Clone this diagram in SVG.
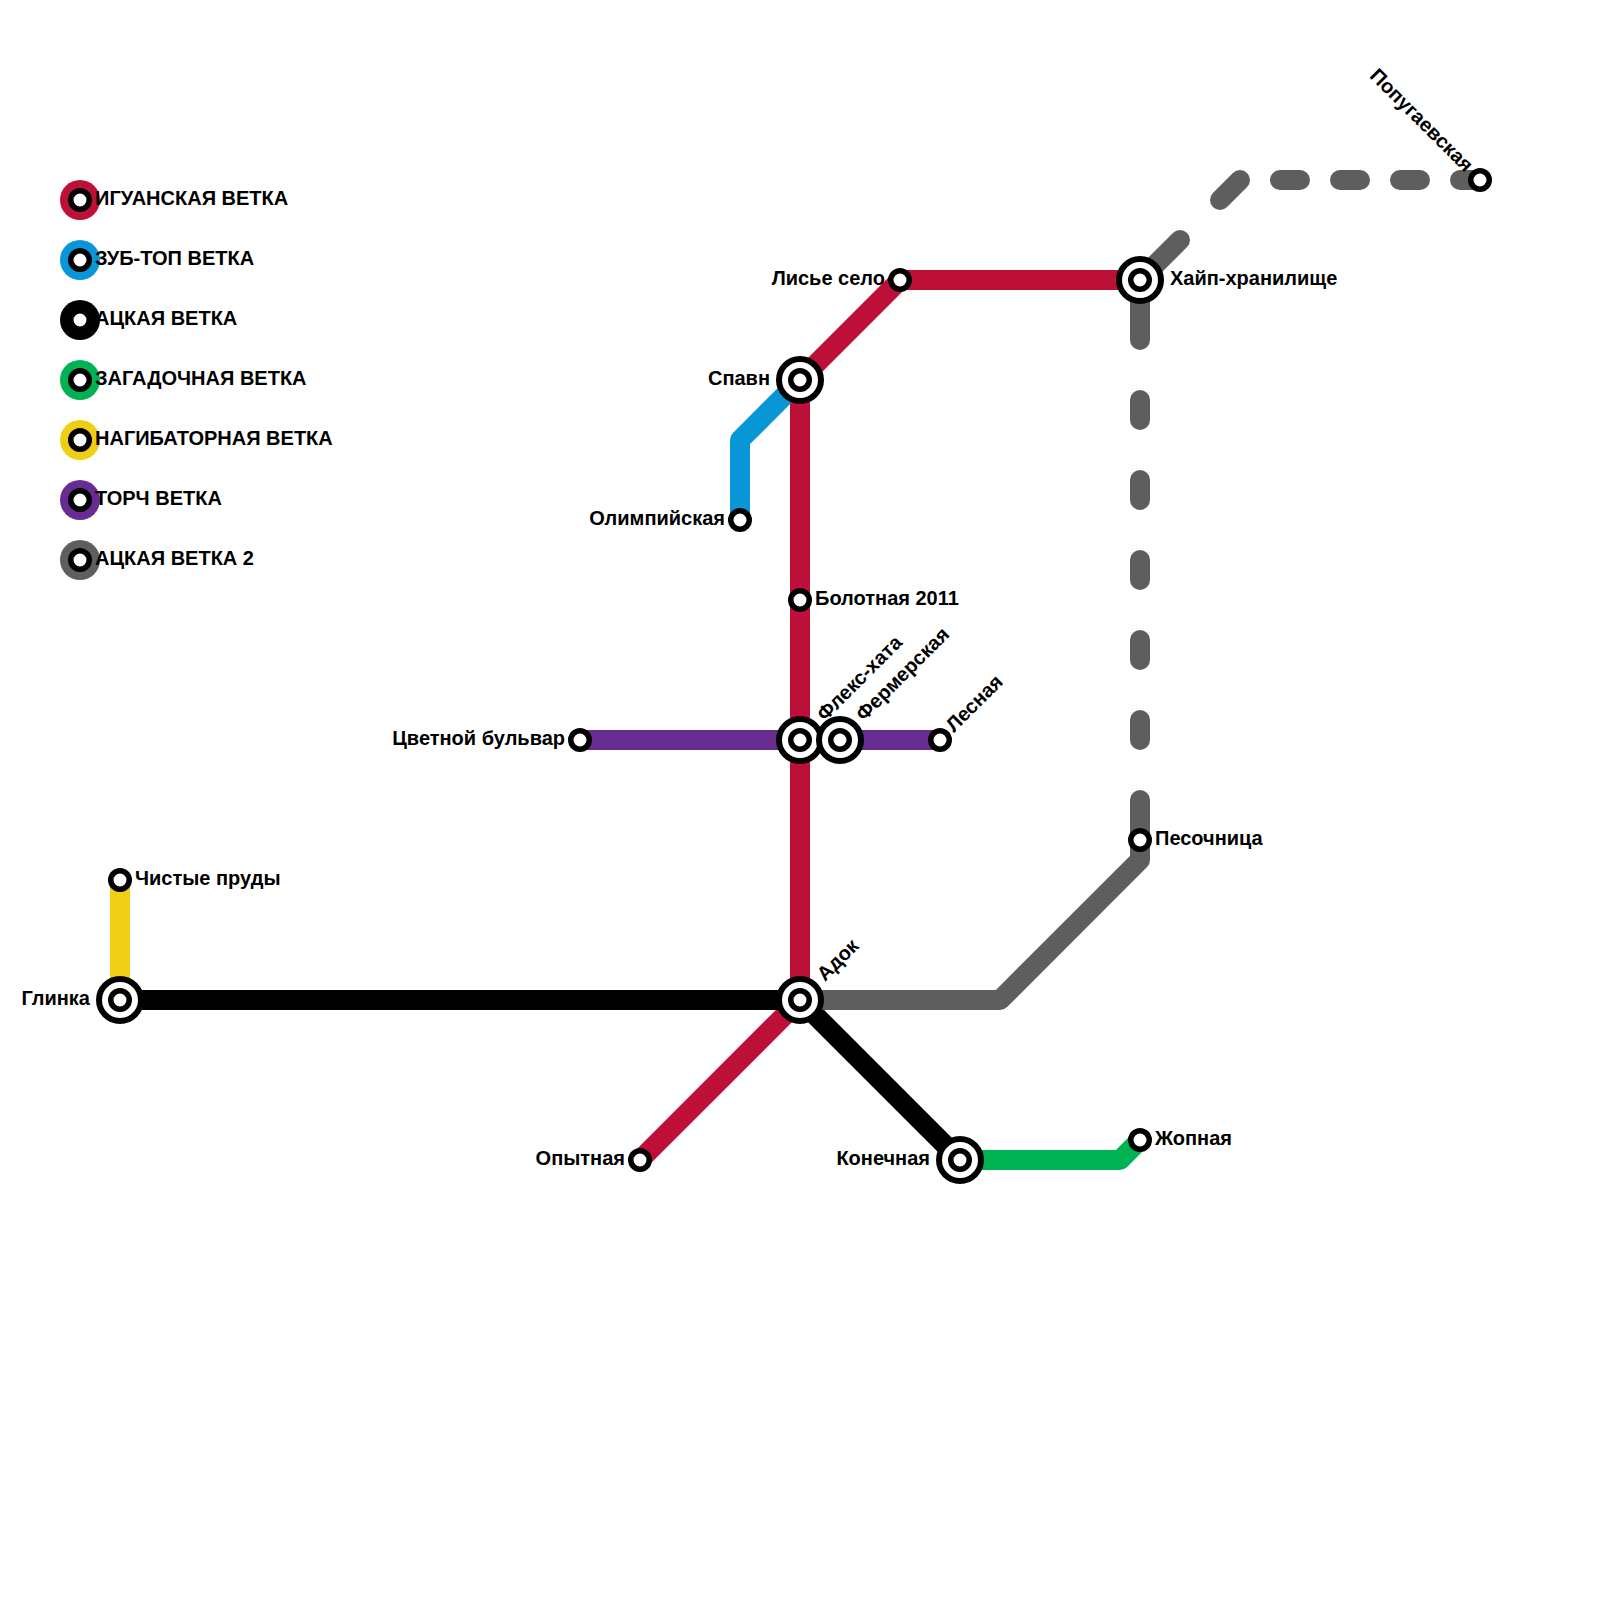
<svg xmlns="http://www.w3.org/2000/svg" width="1600" height="1600" viewBox="0 0 1600 1600">
<style>
.l{fill:none;stroke-width:20;stroke-linecap:round;stroke-linejoin:round}
.t{font-family:"Liberation Sans",Arial,sans-serif;font-weight:700;font-size:20px;fill:#000}
.e{text-anchor:end}
.o{fill:#fff;stroke:#000;stroke-width:6}
.m{fill:#fff;stroke:#000;stroke-width:5.5}
</style>
<defs>
<g id="st"><circle r="9.25" class="m"/></g>
<g id="ix"><circle r="21" class="o"/><circle r="9.25" class="m"/></g>
</defs>
<rect width="1600" height="1600" fill="#fff"/>
<g id="connectors">
<path class="l" stroke="#662c90" d="M580 740H940"/>
<path class="l" stroke="#bd1038" d="M640 1160L800 1000V380L900 280H1140"/>
<path class="l" stroke="#0896d7" d="M800 380L740 440V520"/>
<path class="l" stroke="#f0ce15" d="M120 880V1000"/>
<path class="l" stroke="#000" d="M120 1000H800L960 1160"/>
<path class="l" stroke="#00b251" d="M960 1160H1120L1140 1140"/>
<path class="l" stroke="#5e5e5e" d="M800 1000H1000L1140 860V840"/>
<path class="l" stroke="#5e5e5e" d="M1140 800V840M1140 720V740M1140 640V660M1140 560V580M1140 480V500M1140 400V420M1140 280V340M1140 280L1180 240M1220 200L1240 180M1280 180H1300M1340 180H1360M1400 180H1420M1460 180H1480"/>
</g>
<g id="legend-1"><circle cx="80" cy="200" r="20" fill="#bd1038"/><use href="#st" x="80" y="200"/><text class="t" x="95" y="205">ИГУАНСКАЯ ВЕТКА</text></g>
<g id="legend-2"><circle cx="80" cy="260" r="20" fill="#0896d7"/><use href="#st" x="80" y="260"/><text class="t" x="95" y="265">ЗУБ-ТОП ВЕТКА</text></g>
<g id="legend-3"><circle cx="80" cy="320" r="20" fill="#000"/><use href="#st" x="80" y="320"/><text class="t" x="95" y="325">АЦКАЯ ВЕТКА</text></g>
<g id="legend-4"><circle cx="80" cy="380" r="20" fill="#00b251"/><use href="#st" x="80" y="380"/><text class="t" x="95" y="385">ЗАГАДОЧНАЯ ВЕТКА</text></g>
<g id="legend-5"><circle cx="80" cy="440" r="20" fill="#f0ce15"/><use href="#st" x="80" y="440"/><text class="t" x="95" y="445">НАГИБАТОРНАЯ ВЕТКА</text></g>
<g id="legend-6"><circle cx="80" cy="500" r="20" fill="#662c90"/><use href="#st" x="80" y="500"/><text class="t" x="95" y="505">ТОРЧ ВЕТКА</text></g>
<g id="legend-7"><circle cx="80" cy="560" r="20" fill="#5e5e5e"/><use href="#st" x="80" y="560"/><text class="t" x="95" y="565">АЦКАЯ ВЕТКА 2</text></g>
<g id="spavn"><use href="#ix" x="800" y="380"/><text class="t e" x="770" y="385">Спавн</text></g>
<g id="lisie"><use href="#st" x="900" y="280"/><text class="t e" x="885" y="285">Лисье село</text></g>
<g id="hype"><use href="#ix" x="1140" y="280"/><text class="t" x="1170" y="285">Хайп-хранилище</text></g>
<g id="popugai"><use href="#st" x="1480" y="180"/><text class="t e" transform="translate(1465 173) rotate(45)">Попугаевская</text></g>
<g id="olimp"><use href="#st" x="740" y="520"/><text class="t e" x="725" y="525">Олимпийская</text></g>
<g id="bolot"><use href="#st" x="800" y="600"/><text class="t" x="815" y="605">Болотная 2011</text></g>
<g id="flex"><use href="#ix" x="800" y="740"/><text class="t" transform="translate(825 722) rotate(-45)">Флекс-хата</text></g>
<g id="fermer"><use href="#ix" x="840" y="740"/><text class="t" transform="translate(864 722) rotate(-45)">Фермерская</text></g>
<g id="lesnaya"><use href="#st" x="940" y="740"/><text class="t" transform="translate(954 733) rotate(-45)">Лесная</text></g>
<g id="tsvet"><use href="#st" x="580" y="740"/><text class="t e" x="565" y="745">Цветной бульвар</text></g>
<g id="chist"><use href="#st" x="120" y="880"/><text class="t" x="135" y="885">Чистые пруды</text></g>
<g id="glinka"><use href="#ix" x="120" y="1000"/><text class="t e" x="90" y="1005">Глинка</text></g>
<g id="adok"><use href="#ix" x="800" y="1000"/><text class="t" transform="translate(825 982) rotate(-45)">Адок</text></g>
<g id="opyt"><use href="#st" x="640" y="1160"/><text class="t e" x="625" y="1165">Опытная</text></g>
<g id="konech"><use href="#ix" x="960" y="1160"/><text class="t e" x="930" y="1165">Конечная</text></g>
<g id="zhop"><use href="#st" x="1140" y="1140"/><text class="t" x="1155" y="1145">Жопная</text></g>
<g id="pesoch"><use href="#st" x="1140" y="840"/><text class="t" x="1155" y="845">Песочница</text></g>
</svg>
